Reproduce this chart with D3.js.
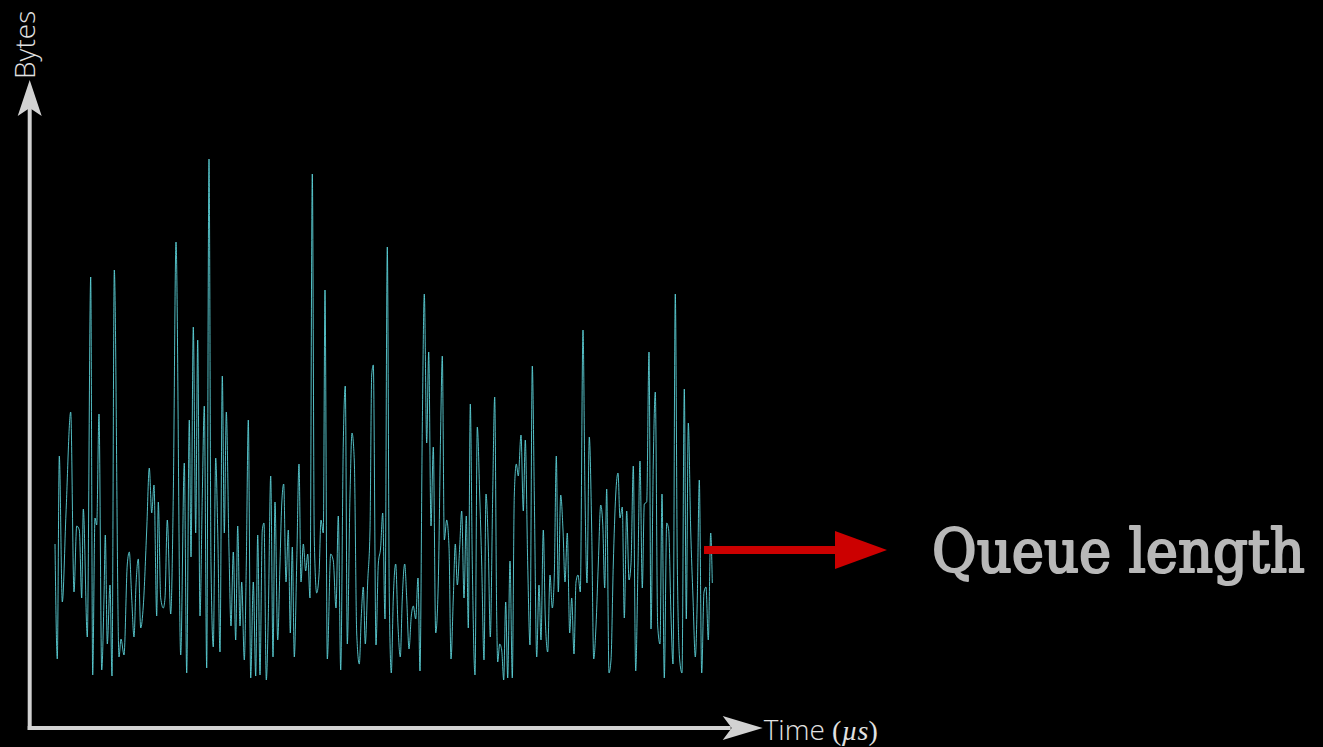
<!DOCTYPE html>
<html>
<head>
<meta charset="utf-8">
<script src="https://cdn.jsdelivr.net/npm/d3@7"></script>
<style>
  html, body { margin: 0; padding: 0; background: #000; }
  svg { display: block; }
</style>
</head>
<body>
<svg id="chart" width="1323" height="747"></svg>
<script>
// Queue occupancy samples: time stamps (µs) and queue size (bytes)
const timeUs = [
  0, 2.3, 4.3, 7.3, 11, 15.7, 19, 21.7, 24.3, 26.7,
  28.3, 32.3, 35.7, 37.7, 40, 41.7, 44, 46.7, 49, 50.3,
  52.3, 55, 57, 59.3, 64, 66, 69, 72.3, 74.3, 76.7,
  79, 81, 83.3, 85.7, 88.3, 91.7, 94.3, 96.7, 99, 101.7,
  103.3, 105.7, 108.3, 110, 112.3, 115.7, 118.3, 121, 125.7, 129.3,
  131.7, 134.3,
  136, 138.3, 140.7, 142.7, 145, 147.3, 149.3, 151.7, 154, 156,
  158.3, 160.7, 162.7, 165, 167.3, 169.3, 171.3, 174, 176, 178.3,
  180.7, 182.7, 185, 186.7, 189.3, 191.3, 193.3, 195.7, 198.3, 200.7,
  202.7, 205, 207.3, 209, 211.3, 213.3, 215.7, 218, 220, 222.7,
  225, 226.7, 228.7, 231, 233.3, 235.3, 237.3, 239.3, 241.7, 244,
  246, 248.3, 250.7, 252.7, 255, 257.3, 259.3, 261.7, 264, 266,
  268.3,
  270, 272.3, 275.7, 278.3, 281, 283.3, 285.7, 288.3, 290.3, 292.3,
  295, 297, 299.3, 301.7, 304.3, 306.3, 308.3, 310.3, 312.7, 315,
  316.7, 318.3, 321, 323.3, 325.7, 327.7, 330, 332.3, 334.3, 336.3,
  338.3, 340.7, 343, 345.3, 347.3, 349.7, 351.7, 354, 356.3, 358.3,
  360.7, 363, 365, 367.3, 369.3, 371.7, 373.7, 376, 378.3, 380.7,
  383.3, 385.7, 387.3, 389.3, 391.7, 394, 396, 398.3, 400.3, 402.3,
  404.7, 406.7, 409, 411.3, 413.3, 415.3, 417.3, 420, 422.3, 424.7,
  426.7, 429, 431, 433.3, 435.3, 437.7, 439.7, 441.7, 442.7, 444.7,
  446.7, 448.7, 450.7, 452.7, 455, 457.3, 459.3, 461.3, 463.3, 466,
  468.3, 470.3, 472.7, 475, 477.3, 479.3, 481.7, 484, 486, 488.3,
  490.3, 492.7, 495, 497.3, 499.3, 501.3, 503.3, 505.7, 508, 510,
  512.3, 514.7, 516.7, 519, 521, 523, 525.3, 528, 530, 532,
  534.3, 536.7, 538.7,
  541, 543.3, 545.7, 547.7, 549.7, 551.7, 554, 556, 558.3, 560.7,
  563, 565, 567.3, 569.3, 571.7, 574, 576, 578.3, 580.7, 583,
  585, 587.3, 589.3, 591.7, 594, 596, 598.3, 600.3, 602.7, 605,
  607, 609.3, 611.7, 613.7, 616, 618, 620.3, 622.3, 624.7, 627,
  629.3, 631.3, 633.3, 635.7, 638, 640.3, 642.3, 644.3, 646.7, 649,
  651, 653.3, 655.7, 657.3
];

const queueBytes = [
  184, 69, 272, 126, 215, 316, 136, 202, 198, 130,
  219, 91, 451, 53, 210, 203, 314, 58, 130, 193,
  84, 143, 52, 458, 71, 89, 73, 164, 176, 130,
  91, 143, 169, 100, 122, 198, 260, 215, 243, 112,
  226, 130, 120, 130, 208, 114, 233, 486, 73, 265,
  55, 308,
  171, 401, 195, 388, 112, 233, 322, 60, 569, 164,
  81, 270, 198, 76, 352, 195, 316, 177, 102, 176,
  88, 202, 102, 146, 68, 164, 308, 50, 146, 52,
  193, 53, 198, 205, 48, 112, 252, 71, 226, 88,
  164, 223, 244, 146, 198, 95, 181, 71, 164, 264,
  146, 184, 157, 174, 130, 554, 188, 135, 153, 208,
  195,
  438, 69, 174, 167, 120, 212, 58, 285, 342, 84,
  233, 295, 267, 95, 64, 112, 141, 84, 146, 198,
  353, 363, 83, 164, 181, 215, 109, 481, 130, 55,
  130, 164, 102, 71, 130, 164, 130, 79, 112, 122,
  109, 150, 57, 301, 434, 285, 376, 202, 281, 95,
  146, 301, 372, 188, 208, 181, 69, 130, 184, 143,
  181, 217, 130, 212, 100, 324, 164, 53, 301, 233,
  164, 68, 234, 181, 91, 233, 331, 112, 66, 84,
  78, 48, 126, 50, 167, 50, 233, 264, 252, 293,
  217, 288, 164, 83, 362, 233, 71, 143, 88, 198,
  109, 76, 153, 120, 153, 272, 136, 233, 198, 146,
  195, 95, 130, 74, 146, 153, 136, 398, 233, 145,
  291, 198, 69,
  102, 164, 223, 205, 140, 239, 55, 68, 164, 233,
  255, 210, 221, 110, 217, 148, 164, 262, 57, 164,
  267, 140, 224, 226, 376, 99, 267, 336, 102, 84,
  234, 50, 205, 198, 112, 64, 434, 164, 68, 55,
  339, 109, 305, 198, 130, 71, 130, 248, 55, 136,
  141, 88, 195, 145
];

const axisLabelX = "Time";
const axisUnitX = "µs";
const axisLabelY = "Bytes";
const seriesLabel = "Queue length";

const svg = d3.select("#chart");
svg.append("rect").attr("width", 1323).attr("height", 747).attr("fill", "#000");

// Scales: origin of both axes sits at the bottom-left corner
const x = d3.scaleLinear().domain([-25.3, 707.7]).range([29.7, 762.7]);
const y = d3.scaleLinear().domain([0, 650]).range([728, 78]);

const axisColor = "#d2d2d2";
const [x0, x1] = x.range();
const [y0, y1] = y.range();

// Axis shafts
svg.append("line")
  .attr("x1", x0).attr("y1", y0 + 2).attr("x2", x0).attr("y2", y1 + 30)
  .attr("stroke", axisColor).attr("stroke-width", 4);
svg.append("line")
  .attr("x1", x0 - 2).attr("y1", y0).attr("x2", x1 - 32).attr("y2", y0)
  .attr("stroke", axisColor).attr("stroke-width", 4);

// Stealth-style arrowheads
svg.append("path")
  .attr("d", `M${x0},${y1 + 2} L${x0 + 12},${y1 + 38} L${x0},${y1 + 30} L${x0 - 12},${y1 + 38} Z`)
  .attr("fill", axisColor);
svg.append("path")
  .attr("d", `M${x1},${y0} L${x1 - 40},${y0 - 12} L${x1 - 31},${y0} L${x1 - 40},${y0 + 12} Z`)
  .attr("fill", axisColor);

// Queue length trace
const line = d3.line()
  .x((d, i) => x(timeUs[i]))
  .y(d => y(d))
  .curve(d3.curveMonotoneX);

svg.append("path")
  .datum(queueBytes)
  .attr("d", line)
  .attr("fill", "none")
  .attr("stroke", "#5cd3d9")
  .attr("stroke-width", 0.9)
  .attr("stroke-linejoin", "round");

// Axis labels
svg.append("text")
  .attr("transform", `translate(35,79) rotate(-90)`)
  .attr("font-family", "'Open Sans', sans-serif")
  .attr("font-weight", 300)
  .attr("font-size", 28)
  .attr("fill", "#e2e2e2")
  .text(axisLabelY);

const tx = svg.append("text")
  .attr("x", x1 + 1).attr("y", 740)
  .attr("font-size", 28)
  .attr("fill", "#e2e2e2");
tx.append("tspan")
  .attr("font-family", "'Open Sans', sans-serif")
  .attr("font-weight", 300)
  .text(axisLabelX + " ");
tx.append("tspan")
  .attr("font-family", "'Liberation Serif', serif")
  .attr("font-size", 28)
  .text("(");
tx.append("tspan")
  .attr("font-family", "'Liberation Serif', serif")
  .attr("font-style", "italic")
  .attr("font-size", 28)
  .text(axisUnitX);
tx.append("tspan")
  .attr("font-family", "'Liberation Serif', serif")
  .attr("font-size", 28)
  .text(")");

// Callout arrow pointing at the series name
const ay = 550;
svg.append("line")
  .attr("x1", 704).attr("y1", ay).attr("x2", 840).attr("y2", ay)
  .attr("stroke", "#cc0000").attr("stroke-width", 8);
svg.append("path")
  .attr("d", `M835,${ay - 19} L887,${ay} L835,${ay + 19} Z`)
  .attr("fill", "#cc0000");

svg.append("text")
  .attr("x", 932).attr("y", 572)
  .attr("font-family", "'DejaVu Serif Condensed', 'DejaVu Serif', serif")
  .attr("font-size", 60.5)
  .attr("fill", "#b8b8b8")
  .attr("stroke", "#b8b8b8")
  .attr("stroke-width", 2)
  .attr("stroke-linejoin", "round")
  .text(seriesLabel);
</script>
</body>
</html>
